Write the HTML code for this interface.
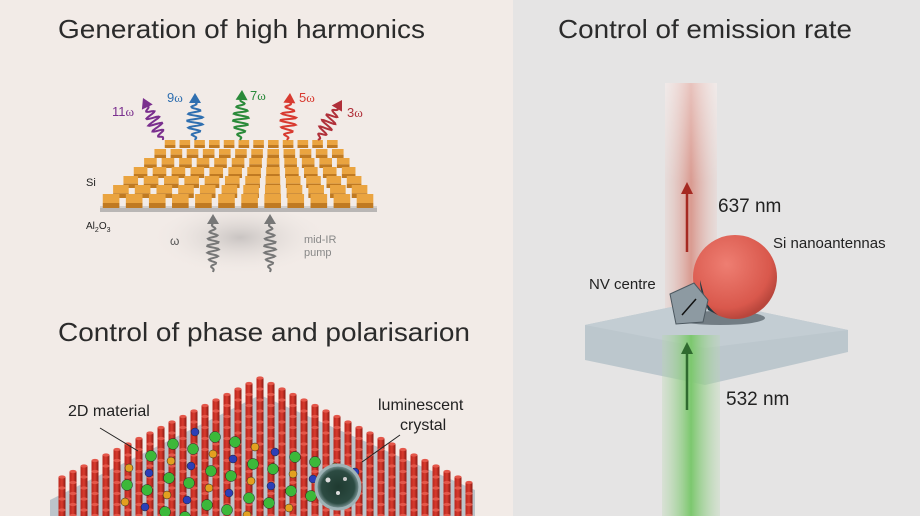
<!DOCTYPE html>
<html><head><meta charset="utf-8"><style>
html,body{margin:0;padding:0;width:920px;height:516px;overflow:hidden;background:#f2ebe7}
svg{display:block;overflow:hidden}
text{font-family:"Liberation Sans",sans-serif}
</style></head><body>
<svg id="s" width="920" height="516" viewBox="0 0 920 516" xmlns="http://www.w3.org/2000/svg">
<defs>
<radialGradient id="shad" cx="0.5" cy="0.4" r="0.5"><stop offset="0" stop-color="#c9c4c2"/><stop offset="1" stop-color="#f2ebe7" stop-opacity="0"/></radialGradient>
<linearGradient id="red" x1="0" y1="0" x2="1" y2="0"><stop offset="0" stop-color="#e8c9c3" stop-opacity="0.3"/><stop offset="0.5" stop-color="#d99a90"/><stop offset="1" stop-color="#e8c9c3" stop-opacity="0.3"/></linearGradient>
<linearGradient id="redv" x1="0" y1="0" x2="0" y2="1"><stop offset="0" stop-color="#fff" stop-opacity="0.4"/><stop offset="1" stop-color="#fff" stop-opacity="0"/></linearGradient>
<linearGradient id="grn" x1="0" y1="0" x2="1" y2="0"><stop offset="0" stop-color="#b8d8b0" stop-opacity="0.3"/><stop offset="0.5" stop-color="#7cc86e"/><stop offset="1" stop-color="#b8d8b0" stop-opacity="0.3"/></linearGradient>
<radialGradient id="sph" cx="0.4" cy="0.35" r="0.65"><stop offset="0" stop-color="#ee7e72"/><stop offset="0.8" stop-color="#d9584c"/><stop offset="1" stop-color="#b9463c"/></radialGradient>
<radialGradient id="bub" cx="0.5" cy="0.5" r="0.5"><stop offset="0" stop-color="#1f3a30"/><stop offset="0.75" stop-color="#2c4b42"/><stop offset="1" stop-color="#8aa3a6"/></radialGradient>
<linearGradient id="pil" x1="0" y1="0" x2="1" y2="0"><stop offset="0" stop-color="#b8261d"/><stop offset="0.5" stop-color="#d93b2e"/><stop offset="1" stop-color="#8e1b14"/></linearGradient>
</defs>
<rect x="0" y="0" width="513" height="516" fill="#f2ebe7"/>
<rect x="513" y="0" width="407" height="516" fill="#e5e4e4"/>

<text x="58" y="38" font-size="26" fill="#2b2b2b" textLength="367" lengthAdjust="spacingAndGlyphs">Generation of high harmonics</text>
<text x="558" y="38" font-size="26" fill="#2b2b2b" textLength="294" lengthAdjust="spacingAndGlyphs">Control of emission rate</text>
<text x="58" y="341" font-size="26" fill="#2b2b2b" textLength="412" lengthAdjust="spacingAndGlyphs">Control of phase and polarisarion</text>

<ellipse cx="240" cy="245" rx="90" ry="38" fill="url(#shad)"/>
<polygon points="100,206 377,206 377,212 100,212" fill="#b9b6b5"/>
<polygon points="100,206 377,206 377,208 100,208" fill="#d2cfcd"/>
<g id="tiles"></g>
<text x="86" y="186" font-size="11" fill="#222">Si</text>
<text x="86" y="229" font-size="10" fill="#222">Al<tspan font-size="7" dy="3">2</tspan><tspan dy="-3">O</tspan><tspan font-size="7" dy="3">3</tspan></text>
<text x="170" y="245" font-size="12" fill="#555" font-family="Liberation Serif">ω</text>
<text x="304" y="243" font-size="11" fill="#888">mid-IR</text>
<text x="304" y="256" font-size="11" fill="#888">pump</text>
<g id="waves"></g>
<text x="112" y="116" font-size="13" fill="#7a2f8e">11<tspan font-family="Liberation Serif">ω</tspan></text>
<text x="167" y="102" font-size="13" fill="#2f6fb0">9<tspan font-family="Liberation Serif">ω</tspan></text>
<text x="250" y="100" font-size="13" fill="#2a8a3a">7<tspan font-family="Liberation Serif">ω</tspan></text>
<text x="299" y="102" font-size="13" fill="#d83a30">5<tspan font-family="Liberation Serif">ω</tspan></text>
<text x="347" y="117" font-size="13" fill="#b0303a">3<tspan font-family="Liberation Serif">ω</tspan></text>

<polygon points="260,395 475,490 475,516 50,516 50,500" fill="#bcc4ca"/>
<g id="pillars"></g>
<g id="atoms"></g>
<circle cx="338" cy="487" r="22" fill="url(#bub)" stroke="#9fb3b6" stroke-width="3"/>
<circle cx="328" cy="480" r="2.5" fill="#ddd"/><circle cx="345" cy="479" r="2" fill="#ccc"/><circle cx="338" cy="493" r="2" fill="#ddd"/>
<line x1="100" y1="428" x2="138" y2="451" stroke="#222" stroke-width="1"/>
<line x1="400" y1="435" x2="362" y2="462" stroke="#222" stroke-width="1"/>
<text x="68" y="416" font-size="16" fill="#222">2D material</text>
<text x="378" y="410" font-size="16" fill="#222">luminescent</text>
<text x="400" y="430" font-size="16" fill="#222">crystal</text>

<rect x="665" y="83" width="52" height="235" fill="url(#red)"/>
<rect x="665" y="83" width="52" height="100" fill="url(#redv)"/>
<polygon points="585,325 705,300 848,330 848,352 705,385 585,360" fill="#b7c3ca" opacity="0.9"/>
<polygon points="585,325 705,300 848,330 705,348" fill="#c3cdd3"/>
<rect x="662" y="335" width="58" height="181" fill="url(#grn)"/>
<ellipse cx="720" cy="318" rx="45" ry="7" fill="#3c4850" opacity="0.6"/>
<circle cx="735" cy="277" r="42" fill="url(#sph)"/>
<path d="M700,280 A42,42 0 0 0 718,315 L708,310 Z" fill="#1e3a44"/>
<polygon points="670,294 694,283 708,300 703,322 676,324" fill="#8d9aa2" stroke="#4c5860" stroke-width="1"/>
<line x1="682" y1="315" x2="696" y2="299" stroke="#111" stroke-width="1.5"/>
<line x1="687" y1="252" x2="687" y2="192" stroke="#a52a22" stroke-width="2.5"/>
<polygon points="681,194 693,194 687,182" fill="#a52a22"/>
<line x1="687" y1="410" x2="687" y2="352" stroke="#2f6a2f" stroke-width="2.5"/>
<polygon points="681,354 693,354 687,342" fill="#2f6a2f"/>
<text x="718" y="212" font-size="19" fill="#222">637 nm</text>
<text x="773" y="248" font-size="15" fill="#222">Si nanoantennas</text>
<text x="589" y="289" font-size="15" fill="#222">NV centre</text>
<text x="726" y="405" font-size="19" fill="#222">532 nm</text>
</svg>
<script>
var NS="http://www.w3.org/2000/svg";
function el(t,a,p){var e=document.createElementNS(NS,t);for(var k in a)e.setAttribute(k,a[k]);p.appendChild(e);return e;}
var T=document.getElementById("tiles");
var rows=7,cols=12;
for(var r=0;r<rows;r++){var f=r/(rows-1);var y=143+f*58;var xl=163+(100-163)*f,xr=340+(377-340)*f;var w=(xr-xl)/cols;var h=5+f*4;
for(var c=0;c<cols;c++){var x=xl+c*w+w*0.12;var tw=w*0.72;
el("rect",{x:x,y:y-h+2,width:tw,height:h,fill:"#eaa440"},T);
el("rect",{x:x,y:y+2,width:tw,height:3+f*2,fill:"#c07a22"},T);}}
var W=document.getElementById("waves");
function wave(x0,y0,x1,y1,col,amp){var dx=x1-x0,dy=y1-y0,L=Math.hypot(dx,dy),ux=dx/L,uy=dy/L,nx=-uy,ny=ux;var d="";for(var i=0;i<=60;i++){var t=i/60*(L-8);var env=Math.sin(Math.PI*t/(L-8));var o=amp*env*Math.sin(t*0.9);var px=x0+ux*t+nx*o,py=y0+uy*t+ny*o;d+=(i?"L":"M")+px.toFixed(1)+","+py.toFixed(1);}
el("path",{d:d,fill:"none",stroke:col,"stroke-width":2},W);
var tx=x0+ux*L,ty=y0+uy*L,bx=tx-ux*10,by=ty-uy*10;
el("polygon",{points:tx+","+ty+" "+(bx+nx*6)+","+(by+ny*6)+" "+(bx-nx*6)+","+(by-ny*6),fill:col},W);}
wave(163,140,143,98,"#7a2f8e",7);
wave(195,140,195,93,"#2f6fb0",8);
wave(240,140,242,90,"#2a8a3a",8);
wave(287,140,290,93,"#d83a30",8);
wave(318,140,342,100,"#b0303a",7);
wave(213,272,213,214,"#777",6);
wave(270,272,270,214,"#777",6);
var P=document.getElementById("pillars");
for(var s=0;s<30;s++)for(var i=0;i<=s;i++){var j=s-i;
var x=260+(i-j)*11, y=378+(i+j)*5.5;
if(y>520||x<55||x>470)continue;
el("rect",{x:x-3.5,y:y,width:7,height:28,fill:"url(#pil)"},P);
el("ellipse",{cx:x,cy:y,rx:3.5,ry:1.6,fill:"#e4574a"},P);}
var A=document.getElementById("atoms");
var cols2=["#2c3fb8","#3cb83a","#3cb83a","#e3a020"];
for(var a=0;a<9;a++)for(var b=0;b<6;b++){
var x=195+a*20-b*22, y=432+a*5+b*12; if(x<120)continue;
var c=cols2[(a+b)%4];
el("circle",{cx:x,cy:y,r:(c=="#3cb83a"?5.5:4),fill:c,stroke:"#222","stroke-width":0.5},A);}
</script>
</body></html>
